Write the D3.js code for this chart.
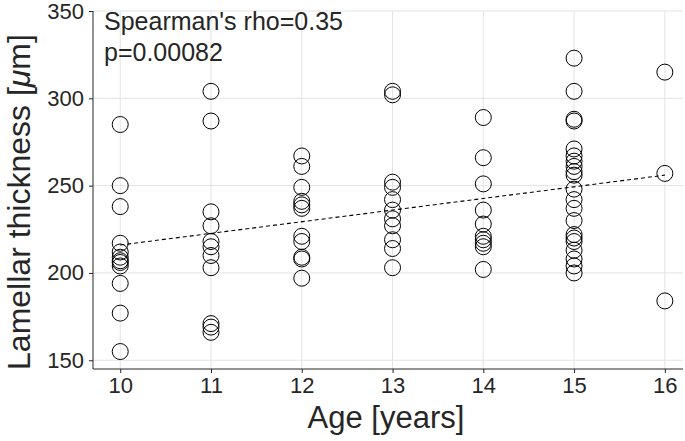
<!DOCTYPE html>
<html>
<head>
<meta charset="utf-8">
<script src="https://cdn.jsdelivr.net/npm/d3@7"></script>
<style>
  body { margin: 0; background: #fff; }
  text { font-family: "Liberation Sans", Arial, sans-serif; fill: #262626; }
</style>
</head>
<body>
<svg id="chart" width="685" height="441"></svg>
<script>
// ---- data ----
const ages = [10, 11, 12, 13, 14, 15, 16];
const age10 = [285, 250, 238, 217, 212, 209, 207, 206, 204, 194, 177, 155];
const age11 = [304, 287, 235, 227, 218, 215, 210, 203, 171, 169, 166];
const age12 = [267, 261, 249, 241, 239, 237, 221, 218, 209, 208, 197];
const age13 = [304, 302, 252, 249, 242, 236, 231, 227, 219, 214, 203];
const age14 = [289, 266, 251, 236, 228, 221, 219, 217, 215, 202];
const age15 = [323, 304, 288, 287, 271, 267, 264, 261, 258, 256, 248, 242, 237, 230, 222, 220, 218, 213, 208, 204, 200];
const age16 = [315, 257, 184];
const fitLine = [[10, 216], [16, 256]];
const yTicks = [150, 200, 250, 300, 350];
const annotation = ["Spearman's rho=0.35", "p=0.00082"];

const groups = [age10, age11, age12, age13, age14, age15, age16];
let points = [];
groups.forEach((vals, i) => vals.forEach(v => points.push({ age: ages[i], value: v })));

// ---- layout ----
const svg = d3.select("#chart");
const plotLeft = 93, plotRight = 683, plotTop = 11, plotBottom = 369;

const x = d3.scaleLinear().domain([9.7, 16.2]).range([plotLeft, plotRight]);
const y = d3.scaleLinear().domain([145, 350]).range([plotBottom, plotTop]);

// grid
svg.append("g")
    .selectAll("line")
    .data(ages)
    .enter()
    .append("line")
    .attr("x1", d => x(d)).attr("x2", d => x(d))
    .attr("y1", plotTop).attr("y2", plotBottom)
    .attr("stroke", "#e3e3e3");
svg.append("g")
    .selectAll("line")
    .data(yTicks)
    .enter()
    .append("line")
    .attr("x1", plotLeft).attr("x2", plotRight)
    .attr("y1", d => y(d)).attr("y2", d => y(d))
    .attr("stroke", "#e3e3e3");

// axes
const xAxis = svg.append("g")
    .attr("transform", "translate(0," + plotBottom + ")")
    .call(d3.axisBottom(x).tickValues(ages).tickFormat(d3.format("d")).tickSizeInner(4).tickSizeOuter(0).tickPadding(4));
const yAxis = svg.append("g")
    .attr("transform", "translate(" + plotLeft + ",0)")
    .call(d3.axisLeft(y).tickValues(yTicks).tickFormat(d3.format("d")).tickSizeInner(4).tickSizeOuter(0).tickPadding(5));

[xAxis, yAxis].forEach(a => {
    a.select(".domain").attr("stroke", "#262626");
    a.selectAll(".tick line").attr("stroke", "#262626");
    a.selectAll(".tick text")
        .style("font-size", "22px")
        .attr("fill", "#262626");
});
yAxis.select(".domain").attr("d", "M0," + plotBottom + "V" + plotTop);
xAxis.select(".domain").attr("d", "M" + plotLeft + ",0H" + plotRight);

// fit line
svg.append("line")
    .attr("x1", x(fitLine[0][0])).attr("y1", y(fitLine[0][1]))
    .attr("x2", x(fitLine[1][0])).attr("y2", y(fitLine[1][1]))
    .attr("stroke", "#000")
    .attr("stroke-width", 1.1)
    .attr("stroke-dasharray", "4,3");

// points
svg.append("g")
    .selectAll("circle")
    .data(points)
    .enter()
    .append("circle")
    .attr("cx", d => x(d.age))
    .attr("cy", d => y(d.value))
    .attr("r", 8)
    .attr("fill", "none")
    .attr("stroke", "#000")
    .attr("stroke-width", 1);

// annotation
svg.append("g")
    .selectAll("text")
    .data(annotation)
    .enter()
    .append("text")
    .attr("x", 104)
    .attr("y", (d, i) => 30 + i * 31)
    .style("font-size", "25px")
    .attr("fill", "#000")
    .text(d => d);

// axis labels
svg.append("text")
    .attr("x", 386)
    .attr("y", 428)
    .attr("text-anchor", "middle")
    .style("font-size", "31px")
    .text("Age [years]");

const yl = svg.append("text")
    .attr("transform", "translate(30,202) rotate(-90)")
    .attr("text-anchor", "middle")
    .style("font-size", "32px");
yl.append("tspan").text("Lamellar thickness [");
yl.append("tspan").style("font-style", "italic").text("\u03bc");
yl.append("tspan").text("m]");
</script>
</body>
</html>
